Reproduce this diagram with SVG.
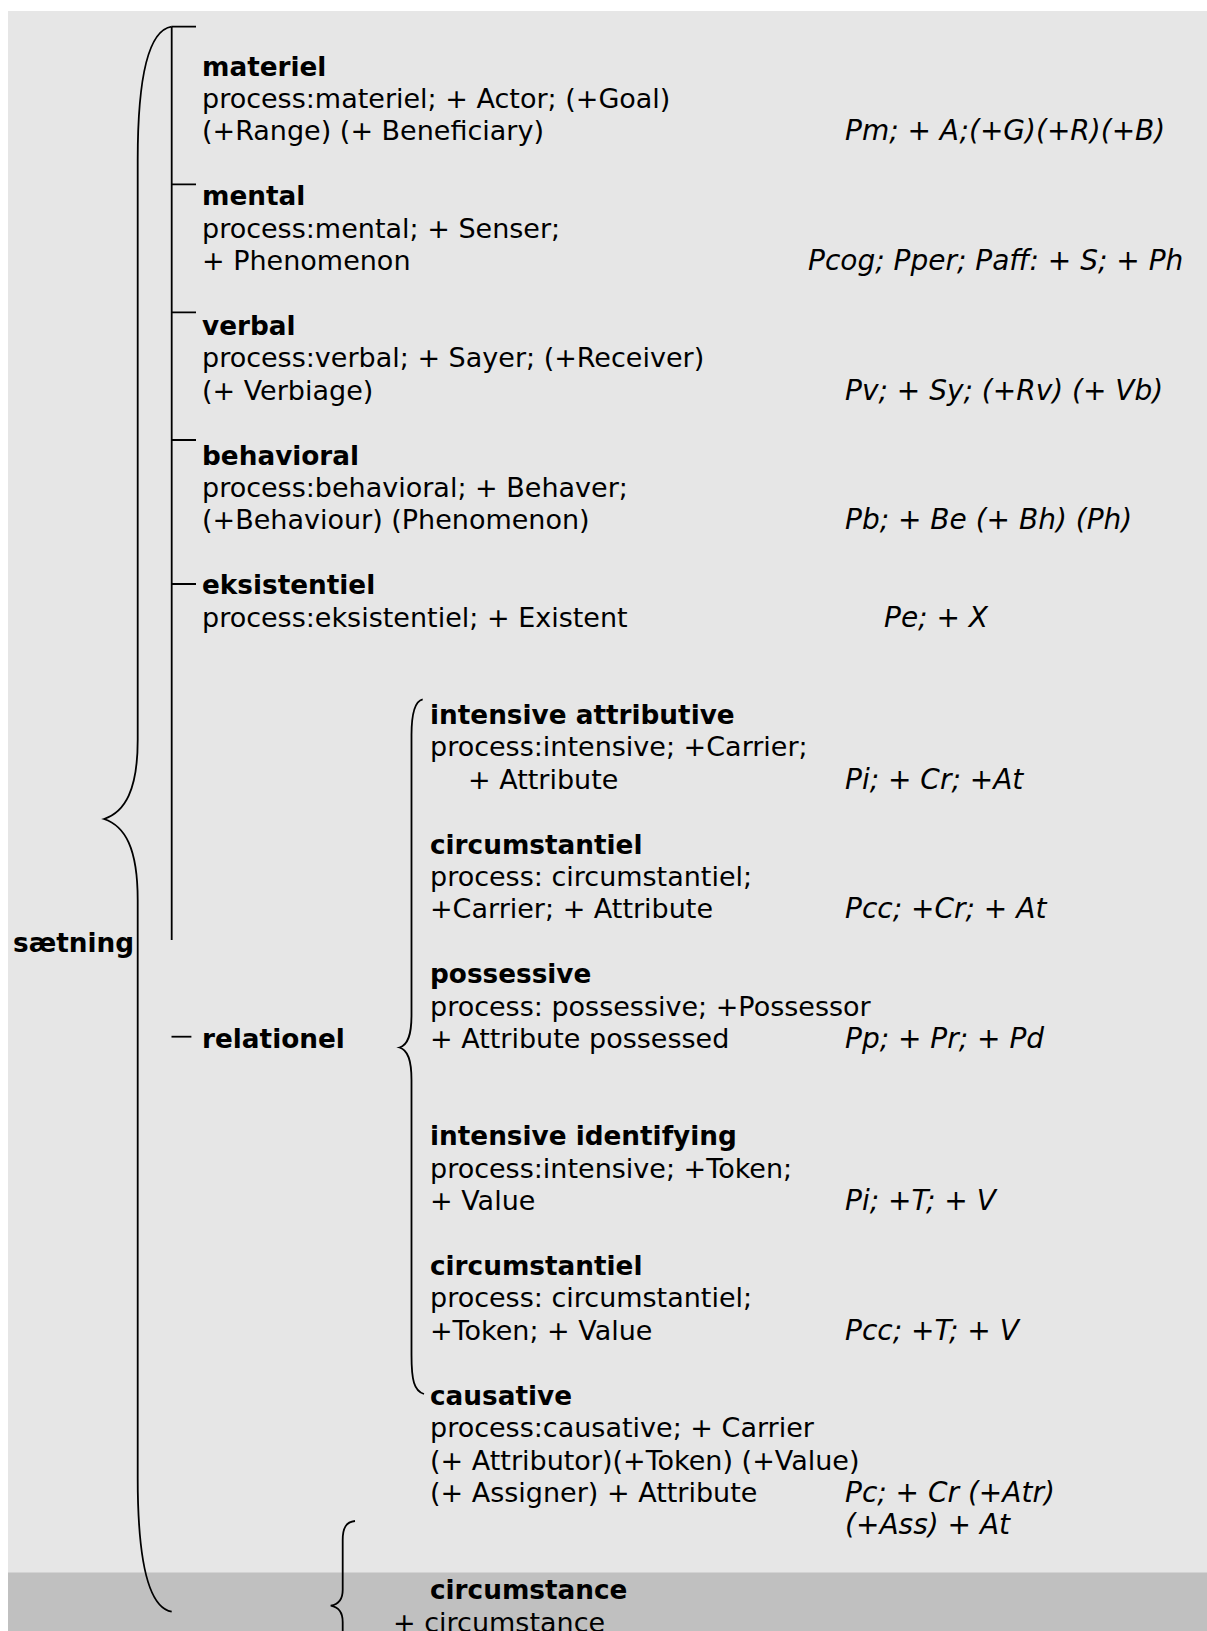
<svg xmlns="http://www.w3.org/2000/svg" width="1207" height="1631" viewBox="0 0 1207 1631">
  <style>
    text { font-family: "DejaVu Sans", "Liberation Sans", sans-serif; fill: #000; }
    .t { font-size: 27px; }
    .h { font-size: 26.3px; font-weight: bold; }
    .i { font-size: 28px; font-style: italic; }
    .ln { fill: none; stroke: #000; stroke-width: 1.8; }
  </style>

  <!-- page shading -->
  <rect x="0" y="0" width="1207" height="1631" fill="#ffffff"/>
  <rect x="8" y="11" width="1199" height="1562" fill="#e6e6e6"/>
  <rect x="8" y="1572.5" width="1199" height="59" fill="#c0c0c0"/>

  <!-- brackets and ticks -->
  <g id="connectors">
    <!-- outer brace: sætning -->
    <path class="ln" d="M171.7,26.7 C150,30 137.7,70 137.7,160 L137.7,740 C137.7,790 125,812 104,819 C125,826 137.7,848 137.7,900 L137.7,1478 C137.7,1568 150,1608 171.7,1611.7"/>
    <!-- process-type bar with ticks -->
    <path class="ln" d="M171.7,26.7 V940 M171.7,26.7 H196 M171.7,184.3 H196 M171.7,312.3 H196 M171.7,440 H196 M171.7,584 H196"/>
    <path class="ln" d="M171.5,1036.7 H191.4"/>
    <!-- brace: relationel -->
    <path class="ln" d="M422.7,699.3 C415,701 411.5,712 411.5,735 L411.5,1015 C411.5,1035 408,1045 399.5,1047.5 C408,1050 411.5,1060 411.5,1080 L411.5,1355 C411.5,1380 414,1391 424,1394"/>
    <!-- brace: circumstance -->
    <path class="ln" d="M355,1521 C346,1522 342.7,1528 342.7,1540 L342.7,1590 C342.7,1600 338,1604.5 330.7,1605.7 C338,1607 342.7,1611 342.7,1622 L342.7,1640"/>
  </g>

  <g id="saetning">
    <text class="h" x="13" y="952">sætning</text>
  </g>

  <g id="materiel">
    <text class="h" x="202" y="75.5">materiel</text>
    <text class="t"><tspan x="202" y="107.9">process:materiel; + Actor; (+Goal)</tspan><tspan x="202" y="140.3">(+Range) (+ Beneficiary)</tspan></text>
    <text class="i" x="845" y="140.3">Pm; + A;(+G)(+R)(+B)</text>
  </g>

  <g id="mental">
    <text class="h" x="202" y="205.2">mental</text>
    <text class="t"><tspan x="202" y="237.6">process:mental; + Senser;</tspan><tspan x="202" y="270">+ Phenomenon</tspan></text>
    <text class="i" x="808" y="270">Pcog; Pper; Paff: + S; + Ph</text>
  </g>

  <g id="verbal">
    <text class="h" x="202" y="334.9">verbal</text>
    <text class="t"><tspan x="202" y="367.3">process:verbal; + Sayer; (+Receiver)</tspan><tspan x="202" y="399.7">(+ Verbiage)</tspan></text>
    <text class="i" x="845" y="399.7">Pv; + Sy; (+Rv) (+ Vb)</text>
  </g>

  <g id="behavioral">
    <text class="h" x="202" y="464.5">behavioral</text>
    <text class="t"><tspan x="202" y="497">process:behavioral; + Behaver;</tspan><tspan x="202" y="529.4">(+Behaviour) (Phenomenon)</tspan></text>
    <text class="i" x="845" y="529.4">Pb; + Be (+ Bh) (Ph)</text>
  </g>

  <g id="eksistentiel">
    <text class="h" x="202" y="594.2">eksistentiel</text>
    <text class="t" x="202" y="626.6">process:eksistentiel; + Existent</text>
    <text class="i" x="884" y="626.6">Pe; + X</text>
  </g>

  <g id="relationel">
    <text class="h" x="202" y="1048.1">relationel</text>
  </g>

  <g id="intensive-attributive">
    <text class="h" x="430" y="723.9">intensive attributive</text>
    <text class="t"><tspan x="430" y="756.3">process:intensive; +Carrier;</tspan><tspan x="468" y="788.7">+ Attribute</tspan></text>
    <text class="i" x="845" y="788.7">Pi; + Cr; +At</text>
  </g>

  <g id="circumstantiel-attributive">
    <text class="h" x="430" y="853.6">circumstantiel</text>
    <text class="t"><tspan x="430" y="886">process: circumstantiel;</tspan><tspan x="430" y="918.4">+Carrier; + Attribute</tspan></text>
    <text class="i" x="845" y="918.4">Pcc; +Cr; + At</text>
  </g>

  <g id="possessive">
    <text class="h" x="430" y="983.3">possessive</text>
    <text class="t"><tspan x="430" y="1015.7">process: possessive; +Possessor</tspan><tspan x="430" y="1048.1">+ Attribute possessed</tspan></text>
    <text class="i" x="845" y="1048.1">Pp; + Pr; + Pd</text>
  </g>

  <g id="intensive-identifying">
    <text class="h" x="430" y="1145.4">intensive identifying</text>
    <text class="t"><tspan x="430" y="1177.8">process:intensive; +Token;</tspan><tspan x="430" y="1210.2">+ Value</tspan></text>
    <text class="i" x="845" y="1210.2">Pi; +T; + V</text>
  </g>

  <g id="circumstantiel-identifying">
    <text class="h" x="430" y="1275">circumstantiel</text>
    <text class="t"><tspan x="430" y="1307.4">process: circumstantiel;</tspan><tspan x="430" y="1339.9">+Token; + Value</tspan></text>
    <text class="i" x="845" y="1339.9">Pcc; +T; + V</text>
  </g>

  <g id="causative">
    <text class="h" x="430" y="1404.7">causative</text>
    <text class="t"><tspan x="430" y="1437.1">process:causative; + Carrier</tspan><tspan x="430" y="1469.6">(+ Attributor)(+Token) (+Value)</tspan><tspan x="430" y="1502">(+ Assigner) + Attribute</tspan></text>
    <text class="i"><tspan x="845" y="1502">Pc; + Cr (+Atr)</tspan><tspan x="845" y="1534.4">(+Ass) + At</tspan></text>
  </g>

  <g id="circumstance">
    <text class="h" x="430" y="1599.2">circumstance</text>
    <text class="t" x="393" y="1631.7">+ circumstance</text>
  </g>
</svg>
